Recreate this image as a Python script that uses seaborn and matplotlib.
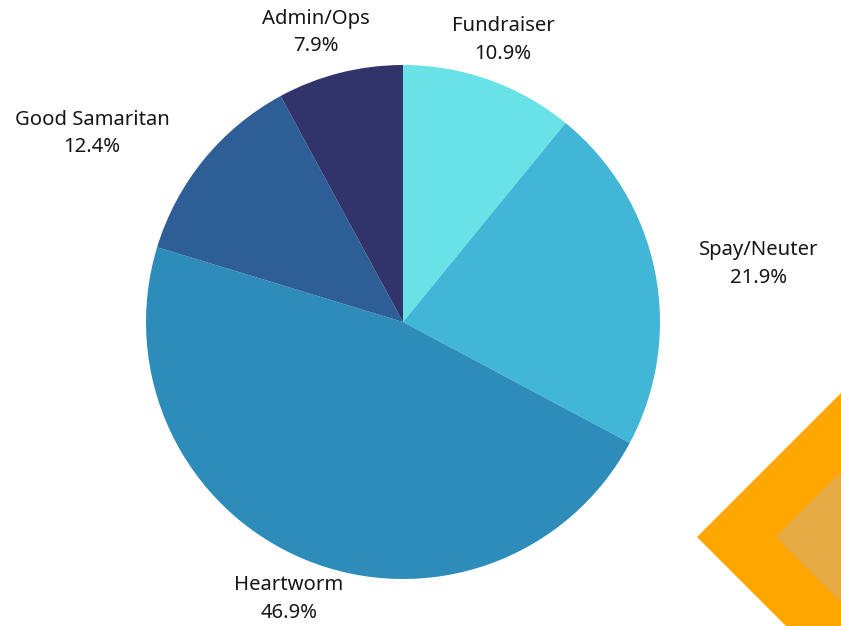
import numpy as np
import matplotlib
matplotlib.use("Agg")
import matplotlib.pyplot as plt
from matplotlib.patches import Polygon
import seaborn as sns

categories = ["Fundraiser", "Spay/Neuter", "Heartworm", "Good Samaritan", "Admin/Ops"]
values = [10.9, 21.9, 46.9, 12.4, 7.9]
pct_labels = ["10.9%", "21.9%", "46.9%", "12.4%", "7.9%"]
colors = ["#68E2E6", "#41B6D6", "#2E8CBB", "#2D5E96", "#31336B"]

sns.set_theme(style="white")
plt.rcParams['font.family'] = ['Noto Sans', 'DejaVu Sans']

W, H = 841, 626
fig = plt.figure(figsize=(W / 100, H / 100), dpi=100)
fig.patch.set_facecolor("white")

# decorative diamonds (bottom right)
def px(x, y):
    return (x / W, 1 - y / H)

cx, cy = 697 + 190, 537
outer = [px(cx - 190, cy), px(cx, cy - 190), px(cx + 190, cy), px(cx, cy + 190)]
inner = [px(cx - 111, cy), px(cx, cy - 111), px(cx + 111, cy), px(cx, cy + 111)]
fig.patches.append(Polygon(outer, closed=True, transform=fig.transFigure, facecolor="#FFA600", edgecolor="none", zorder=0))
fig.patches.append(Polygon(inner, closed=True, transform=fig.transFigure, facecolor="#E6AA44", edgecolor="none", zorder=0))

# pie axes
pcx, pcy, r = 403, 322, 257
ax = fig.add_axes([(pcx - r) / W, (H - pcy - r) / H, 2 * r / W, 2 * r / H])
ax.set_facecolor("none")
palette = sns.color_palette(colors)
wedges, _ = ax.pie(values, colors=palette, startangle=90, counterclock=False,
                   radius=1.0, wedgeprops=dict(linewidth=0))
ax.set_xlim(-1, 1)
ax.set_ylim(-1, 1)
ax.set_aspect("equal")
ax.axis("off")

# label placement (in pie-radius units)
label_xy = [(0.389, 1.097), (1.385, 0.226), (-0.444, -1.078), (-1.210, 0.732), (-0.339, 1.125)]
for cat, pct, (lx, ly) in zip(categories, pct_labels, label_xy):
    ax.text(lx, ly, f"{cat}\n{pct}", ha="center", va="center",
            fontsize=14.6, color="#161616", linespacing=1.48, clip_on=False)

fig.savefig("out.png", dpi=100, facecolor="white")
